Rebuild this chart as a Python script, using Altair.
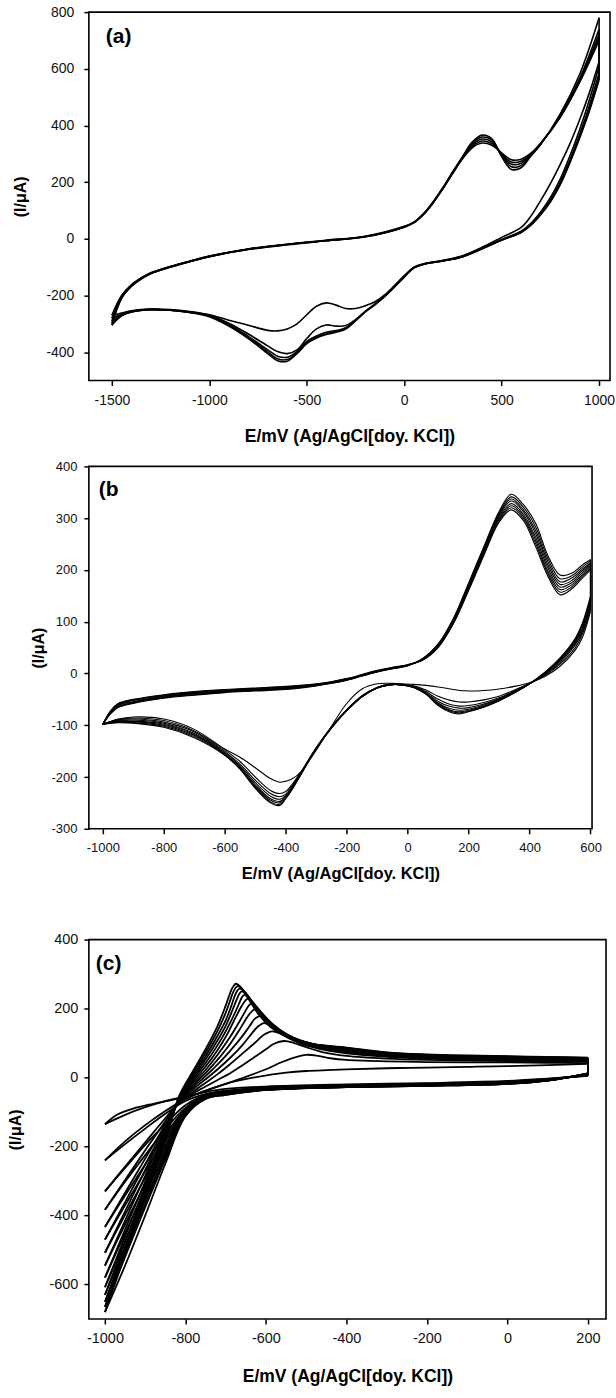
import altair as alt
import pandas as pd

FONT = "Liberation Sans"
X_TITLE = "E/mV (Ag/AgCl[doy. KCl])"
Y_TITLE = "(I/\u03bcA)"
PANEL_LABELS = ["(a)", "(b", "(c)"]

# ---------------- panel (a) ----------------
A_X_TICKS = [-1500, -1000, -500, 0, 500, 1000]
A_Y_TICKS = [-400, -200, 0, 200, 400, 600, 800]
A_E_UP = [-1500, -1450, -1400, -1350, -1300, -1200, -1100, -1000, -800, -600, -400, -200,
          0, 50, 100, 150, 200, 250, 300, 350, 400, 450, 500, 550, 600, 650, 700, 800, 900, 1000]
A_I_UP = [
    [-270, -200, -162, -138, -120, -98, -79, -61, -36, -19, -5, 9, 44, 59, 87, 128, 178, 232, 283, 322, 338, 330, 303, 279, 281, 302, 337, 428, 552, 700],
    [-280, -203, -164, -139, -121, -98, -79, -62, -36, -19, -6, 8, 43, 58, 87, 129, 179, 233, 285, 327, 345, 336, 300, 271, 274, 299, 336, 430, 556, 710],
    [-290, -206, -166, -140, -122, -99, -80, -62, -37, -20, -6, 8, 42, 58, 88, 130, 180, 235, 287, 332, 352, 342, 297, 263, 267, 297, 335, 432, 560, 722],
    [-298, -208, -167, -141, -122, -99, -80, -63, -37, -20, -7, 7, 42, 57, 88, 131, 181, 236, 289, 337, 359, 348, 294, 254, 259, 295, 334, 434, 565, 740],
    [-305, -210, -168, -142, -123, -100, -81, -63, -38, -21, -7, 7, 41, 57, 89, 132, 182, 238, 291, 342, 366, 353, 290, 245, 251, 292, 333, 440, 580, 780],
]
A_E_DN = [1000, 950, 900, 850, 800, 750, 700, 650, 600, 500, 400, 300, 200, 100, 50, 0, -50, -100,
          -150, -200, -250, -300, -350, -400, -450, -500, -550, -600, -650, -700, -800, -900, -1000,
          -1100, -1200, -1300, -1400, -1450, -1500]
A_I_DN = [
    [625, 515, 420, 335, 262, 195, 135, 80, 40, 5, -30, -60, -76, -88, -100, -130, -165, -198, -222, -236, -246, -246, -234, -226, -238, -268, -300, -318, -325, -323, -305, -287, -268, -257, -250, -248, -254, -262, -270],
    [610, 490, 385, 292, 210, 145, 95, 55, 27, -2, -33, -62, -77, -89, -101, -133, -168, -201, -230, -256, -285, -306, -308, -304, -318, -352, -392, -405, -398, -378, -336, -298, -270, -258, -251, -249, -256, -266, -280],
    [585, 470, 368, 278, 198, 136, 88, 50, 24, -3, -34, -63, -78, -90, -102, -134, -169, -202, -231, -257, -288, -314, -324, -330, -343, -362, -398, -418, -414, -392, -344, -302, -272, -259, -252, -250, -257, -269, -290],
    [570, 458, 360, 272, 193, 132, 86, 49, 23, -4, -35, -63, -78, -90, -102, -135, -170, -203, -232, -258, -289, -316, -328, -335, -347, -366, -402, -426, -423, -399, -348, -305, -273, -260, -252, -250, -258, -270, -298],
    [560, 450, 355, 268, 190, 130, 85, 48, 22, -5, -35, -63, -78, -90, -102, -135, -170, -203, -232, -258, -290, -318, -330, -338, -350, -370, -405, -432, -430, -405, -352, -308, -275, -260, -252, -250, -258, -272, -305],
]

# ---------------- panel (b) ----------------
B_X_TICKS = [-1000, -800, -600, -400, -200, 0, 200, 400, 600]
B_Y_TICKS = [-300, -200, -100, 0, 100, 200, 300, 400]
B_E_UP = [-1000, -975, -950, -900, -800, -700, -600, -500, -400, -300, -250, -200, -150, -100, -50,
          0, 50, 100, 150, 200, 250, 300, 340, 380, 420, 460, 500, 540, 570, 600]
B_I_UP = [
    [-98, -72, -58, -50, -41, -35, -31, -28, -25, -20, -16, -10, -2, 6, 12, 17, 26, 50, 96, 160, 228, 292, 316, 295, 245, 188, 152, 164, 182, 200],
    [-98, -73, -59, -51, -42, -36, -32, -29, -26, -21, -16, -10, -3, 5, 11, 17, 26, 51, 97, 162, 230, 295, 320, 299, 251, 193, 157, 168, 186, 203],
    [-98, -74, -60, -52, -43, -37, -33, -30, -27, -21, -17, -11, -3, 5, 11, 16, 27, 52, 99, 164, 233, 298, 324, 303, 257, 198, 162, 172, 189, 206],
    [-98, -75, -61, -54, -44, -38, -34, -31, -28, -22, -17, -11, -4, 4, 10, 16, 27, 53, 100, 166, 235, 301, 328, 307, 263, 204, 167, 176, 193, 209],
    [-98, -76, -62, -55, -45, -39, -35, -32, -29, -22, -18, -12, -4, 4, 10, 16, 28, 54, 102, 168, 238, 304, 333, 312, 270, 210, 172, 180, 197, 212],
    [-98, -77, -64, -56, -46, -40, -35, -32, -29, -23, -18, -12, -4, 4, 10, 15, 28, 55, 103, 170, 240, 307, 337, 316, 276, 216, 177, 185, 200, 214],
    [-98, -77, -65, -57, -47, -41, -36, -33, -30, -23, -19, -13, -5, 3, 9, 15, 29, 56, 105, 172, 243, 310, 341, 321, 283, 222, 183, 189, 204, 217],
    [-98, -78, -66, -58, -48, -42, -37, -34, -31, -24, -19, -13, -5, 3, 9, 15, 29, 57, 106, 175, 245, 313, 346, 326, 290, 228, 190, 194, 208, 220],
]
B_E_DN = [600, 575, 550, 500, 450, 400, 350, 300, 250, 200, 170, 140, 100, 60, 20, -20, -60, -100,
          -150, -200, -250, -300, -350, -380, -400, -420, -450, -500, -550, -600, -700, -800, -900, -950, -1000]
B_I_DN = [
    [120, 72, 45, 14, -6, -18, -25, -30, -33, -34, -33, -30, -26, -23, -21, -20, -19, -20, -30, -58, -102, -148, -190, -204, -208, -210, -203, -182, -162, -146, -108, -88, -84, -88, -98],
    [125, 78, 50, 18, -4, -19, -32, -44, -51, -55, -55, -52, -44, -32, -24, -21, -21, -27, -43, -70, -103, -143, -190, -215, -228, -232, -226, -200, -170, -148, -111, -91, -86, -89, -98],
    [130, 82, 55, 21, -3, -20, -34, -47, -56, -62, -63, -60, -50, -35, -25, -21, -21, -27, -44, -71, -104, -144, -192, -218, -233, -238, -232, -206, -175, -151, -113, -94, -88, -90, -98],
    [134, 86, 58, 24, -1, -20, -35, -49, -59, -66, -67, -64, -54, -37, -26, -22, -21, -27, -44, -71, -104, -144, -193, -220, -236, -243, -237, -211, -178, -153, -116, -96, -90, -91, -98],
    [138, 90, 61, 26, 0, -20, -36, -50, -61, -69, -71, -68, -57, -38, -26, -22, -22, -28, -45, -72, -105, -145, -194, -222, -238, -247, -242, -215, -181, -155, -118, -98, -92, -92, -98],
    [142, 93, 64, 28, 1, -20, -37, -51, -63, -71, -74, -71, -59, -39, -27, -22, -22, -28, -45, -72, -105, -145, -194, -223, -240, -250, -245, -218, -183, -156, -120, -100, -93, -93, -98],
    [146, 97, 66, 29, 2, -20, -37, -52, -64, -73, -76, -73, -61, -40, -27, -22, -22, -28, -45, -72, -105, -145, -195, -224, -241, -253, -248, -220, -184, -157, -122, -102, -95, -94, -98],
    [150, 100, 68, 30, 2, -20, -38, -53, -65, -74, -78, -75, -62, -40, -27, -22, -22, -28, -45, -72, -105, -145, -195, -225, -242, -255, -250, -222, -185, -158, -124, -104, -96, -95, -98],
]

# ---------------- panel (c) ----------------
C_X_TICKS = [-1000, -800, -600, -400, -200, 0, 200]
C_Y_TICKS = [-600, -400, -200, 0, 200, 400]
# positive-going scans, (E, I) pairs from the -1000 mV vertex to +200 mV
C_FWD = [
    [(-1000, -135), (-970, -108), (-930, -90), (-880, -76), (-830, -64), (-780, -50), (-730, -30), (-680, -12), (-620, 2), (-550, 14), (-500, 19), (-400, 24), (-300, 27), (-200, 29), (-100, 31), (0, 33), (100, 36), (200, 40)],
    [(-1000, -240), (-950, -185), (-900, -138), (-850, -97), (-815, -72), (-780, -52), (-750, -38), (-700, -18), (-650, 2), (-600, 24), (-560, 45), (-530, 58), (-500, 66), (-470, 63), (-440, 56), (-400, 51), (-300, 47), (-200, 45), (-100, 44), (0, 44), (100, 43), (200, 42)],
    [(-1000, -330), (-950, -258), (-900, -188), (-850, -118), (-815, -73), (-780, -45), (-750, -26), (-720, -7), (-690, 12), (-660, 34), (-630, 58), (-600, 82), (-580, 98), (-555, 106), (-530, 100), (-500, 88), (-460, 74), (-400, 63), (-300, 55), (-200, 51), (-100, 49), (0, 48), (100, 47), (200, 46)],
    [(-1000, -383), (-950, -297), (-900, -211), (-850, -127), (-815, -72), (-780, -40), (-750, -15), (-720, 10), (-690, 38), (-660, 68), (-630, 98), (-605, 124), (-585, 134), (-565, 128), (-540, 112), (-510, 97), (-470, 84), (-400, 70), (-300, 60), (-200, 55), (-100, 52), (0, 51), (100, 49), (200, 48)],
    [(-1000, -433), (-950, -334), (-900, -235), (-850, -137), (-815, -70), (-780, -33), (-750, -5), (-720, 24), (-690, 56), (-660, 92), (-635, 128), (-620, 148), (-605, 158), (-590, 152), (-570, 135), (-545, 117), (-515, 102), (-480, 90), (-400, 74), (-300, 62), (-200, 57), (-100, 54), (0, 52), (100, 50), (200, 49)],
    [(-1000, -470), (-950, -361), (-900, -252), (-850, -143), (-815, -68), (-780, -27), (-750, 4), (-720, 38), (-690, 76), (-660, 118), (-640, 150), (-628, 170), (-615, 178), (-600, 170), (-580, 150), (-555, 128), (-525, 110), (-490, 96), (-400, 77), (-300, 64), (-200, 59), (-100, 56), (0, 54), (100, 52), (200, 50)],
    [(-1000, -508), (-950, -388), (-900, -268), (-850, -149), (-815, -66), (-780, -21), (-750, 13), (-720, 52), (-690, 96), (-665, 140), (-645, 178), (-635, 192), (-627, 198), (-612, 188), (-595, 166), (-570, 140), (-540, 119), (-505, 103), (-450, 88), (-400, 80), (-300, 66), (-200, 60), (-100, 57), (0, 55), (100, 53), (200, 51)],
    [(-1000, -545), (-950, -415), (-900, -285), (-850, -156), (-815, -64), (-780, -15), (-750, 22), (-720, 66), (-690, 116), (-665, 164), (-650, 195), (-643, 208), (-637, 214), (-622, 203), (-605, 180), (-580, 152), (-550, 127), (-515, 108), (-460, 91), (-400, 81), (-300, 67), (-200, 61), (-100, 58), (0, 56), (100, 54), (200, 52)],
    [(-1000, -580), (-950, -441), (-900, -302), (-850, -163), (-815, -62), (-780, -9), (-750, 32), (-720, 80), (-695, 128), (-675, 175), (-660, 208), (-652, 222), (-646, 228), (-632, 217), (-615, 192), (-590, 160), (-560, 132), (-525, 112), (-470, 94), (-400, 82), (-300, 68), (-200, 62), (-100, 59), (0, 57), (100, 55), (200, 53)],
    [(-1000, -608), (-950, -461), (-900, -314), (-850, -168), (-815, -60), (-780, -3), (-750, 42), (-720, 94), (-700, 134), (-680, 180), (-667, 214), (-660, 232), (-654, 240), (-640, 228), (-622, 202), (-600, 168), (-570, 137), (-535, 115), (-480, 96), (-400, 83), (-300, 69), (-200, 63), (-100, 60), (0, 58), (100, 56), (200, 54)],
    [(-1000, -630), (-950, -477), (-900, -325), (-850, -172), (-815, -58), (-780, 3), (-750, 52), (-720, 108), (-700, 150), (-683, 196), (-672, 228), (-666, 243), (-660, 250), (-646, 238), (-628, 210), (-605, 173), (-575, 140), (-540, 117), (-485, 97), (-400, 84), (-300, 70), (-200, 64), (-100, 61), (0, 59), (100, 57), (200, 55)],
    [(-1000, -650), (-950, -492), (-900, -334), (-850, -176), (-815, -56), (-780, 9), (-750, 62), (-720, 122), (-700, 166), (-686, 208), (-677, 238), (-671, 252), (-665, 258), (-651, 246), (-633, 216), (-610, 177), (-580, 142), (-545, 118), (-490, 98), (-400, 85), (-300, 71), (-200, 65), (-100, 62), (0, 60), (100, 58), (200, 56)],
    [(-1000, -665), (-950, -503), (-900, -341), (-850, -179), (-815, -54), (-780, 15), (-750, 72), (-720, 136), (-702, 182), (-690, 220), (-682, 246), (-676, 259), (-670, 265), (-656, 253), (-638, 222), (-615, 181), (-585, 145), (-550, 120), (-495, 99), (-400, 86), (-300, 72), (-200, 66), (-100, 63), (0, 61), (100, 59), (200, 57)],
    [(-1000, -680), (-950, -514), (-900, -348), (-850, -182), (-815, -52), (-780, 21), (-750, 82), (-720, 150), (-704, 196), (-693, 232), (-686, 254), (-680, 266), (-675, 272), (-661, 260), (-643, 228), (-620, 186), (-590, 148), (-555, 122), (-500, 100), (-400, 87), (-300, 73), (-200, 67), (-100, 64), (0, 62), (100, 60), (200, 58)],
]
# negative-going scans, from +200 mV back to the -1000 mV vertex
C_E_REV = [200, 100, 0, -200, -400, -600, -700, -750, -800, -850, -900, -950, -1000]
C_I_REV = [
    [5, -3, -10, -16, -20, -26, -33, -42, -55, -68, -86, -108, -135],
    [6, -4, -12, -18, -22, -29, -38, -48, -68, -105, -148, -193, -240],
    [7, -5, -13, -19, -23, -30, -40, -50, -80, -135, -195, -262, -330],
    [8, -5, -14, -20, -24, -31, -42, -52, -88, -150, -225, -302, -383],
    [8, -6, -14, -20, -24, -32, -43, -53, -92, -165, -252, -342, -433],
    [9, -6, -15, -21, -25, -33, -44, -54, -95, -176, -272, -370, -470],
    [9, -7, -15, -21, -25, -33, -45, -55, -98, -186, -290, -398, -508],
    [10, -7, -16, -22, -26, -34, -46, -56, -100, -196, -308, -426, -545],
    [10, -8, -16, -22, -26, -34, -47, -57, -102, -205, -326, -452, -580],
    [11, -8, -17, -23, -27, -35, -48, -58, -104, -214, -341, -474, -608],
    [11, -8, -17, -23, -27, -35, -48, -59, -106, -222, -354, -492, -630],
    [12, -9, -18, -24, -28, -36, -49, -60, -107, -230, -366, -508, -650],
    [12, -9, -18, -24, -28, -36, -50, -61, -108, -237, -376, -520, -665],
    [12, -9, -18, -24, -28, -36, -50, -62, -112, -250, -400, -545, -680],
]


def branch_rows(k, up_pts, dn_pts):
    """One cycle = forward branch, vertex step, reverse branch (each its own line)."""
    rows = []
    for name, pts in (("up", up_pts), ("step", [up_pts[-1], dn_pts[0]]), ("dn", dn_pts)):
        rows += [{"seg": f"{k}-{name}", "i": j, "E": e, "I": v} for j, (e, v) in enumerate(pts)]
    return rows


def grid_cycles(e_up, i_up, e_dn, i_dn):
    rows = []
    for k, (u, d) in enumerate(zip(i_up, i_dn)):
        rows += branch_rows(k, list(zip(e_up, u)), list(zip(e_dn, d)))
    return pd.DataFrame(rows)


def pair_cycles(fwd, e_rev, i_rev):
    rows = []
    for k, (f, r) in enumerate(zip(fwd, i_rev)):
        rows += branch_rows(k, list(f), list(zip(e_rev, r)))
    return pd.DataFrame(rows)


def panel(df, label, xdom, ydom, xticks, yticks, w, h, lab_fs, xt_fs, yt_fs,
          xt_y, yt_x, ylab_pad, sw, lx, ly, x_title, xt_base="middle"):
    lines = alt.Chart(df).mark_line(
        interpolate="catmull-rom", color="black", strokeWidth=sw
    ).encode(
        x=alt.X("E:Q", scale=alt.Scale(domain=xdom, nice=False, zero=False),
                axis=alt.Axis(values=xticks, title=x_title, labelExpr="datum.value + ''",
                              labelFont=FONT, labelFontSize=lab_fs, labelColor="#111",
                              labelPadding=8, labelFlush=False, labelOverlap=False,
                              tickSize=5, tickWidth=1.5, tickColor="black",
                              domain=False, grid=False,
                              titleFont=FONT, titleFontSize=xt_fs, titleFontWeight="bold",
                              titleColor="black", titleX=w / 2, titleY=xt_y,
                              titleAlign="center", titleBaseline=xt_base, titleLineHeight=17)),
        y=alt.Y("I:Q", scale=alt.Scale(domain=ydom, nice=False, zero=False),
                axis=alt.Axis(values=yticks, title=Y_TITLE, labelExpr="datum.value + ''",
                              labelFont=FONT, labelFontSize=lab_fs, labelColor="#111",
                              labelPadding=ylab_pad, labelFlush=False, labelOverlap=False,
                              tickSize=5, tickWidth=1.5, tickColor="black",
                              domain=False, grid=False,
                              titleFont=FONT, titleFontSize=yt_fs, titleFontWeight="bold",
                              titleColor="black", titleX=yt_x, titleY=h / 2, titleAngle=270,
                              titleAlign="center", titleBaseline="middle")),
        detail="seg:N",
        order="i:Q",
    )
    tag = alt.Chart(pd.DataFrame({"t": [label]})).mark_text(
        align="left", baseline="middle", font=FONT, fontSize=21, fontWeight="bold", color="black"
    ).encode(x=alt.value(lx), y=alt.value(ly), text="t:N")
    return alt.layer(lines, tag).properties(width=w, height=h)


pa = panel(grid_cycles(A_E_UP, A_I_UP, A_E_DN, A_I_DN), PANEL_LABELS[0],
           [-1618, 1056], [-500, 800], A_X_TICKS, A_Y_TICKS, 522, 369,
           14, 17.5, 16, 56, -68, 10, 1.6, 17, 25, X_TITLE)
pb = panel(grid_cycles(B_E_UP, B_I_UP, B_E_DN, B_I_DN), PANEL_LABELS[1],
           [-1046, 605], [-300, 400], B_X_TICKS, B_Y_TICKS, 504, 363,
           13, 16.5, 16, 37, -50, 7, 1.1, 10, 24, [X_TITLE, " ", " "], "top")
pc = panel(pair_cycles(C_FWD, C_E_REV, C_I_REV), PANEL_LABELS[2],
           [-1040, 245], [-700, 400], C_X_TICKS, C_Y_TICKS, 518, 380,
           14.5, 17.5, 16, 58, -73, 6, 1.8, 7, 24, X_TITLE)

chart = alt.vconcat(pa, pb, pc, spacing=13).configure_view(
    stroke="black", strokeWidth=1.6
).properties(padding={"left": 7, "top": 3, "right": 0, "bottom": 0})

chart.save("out.html", embed_options={"renderer": "svg", "actions": False})
